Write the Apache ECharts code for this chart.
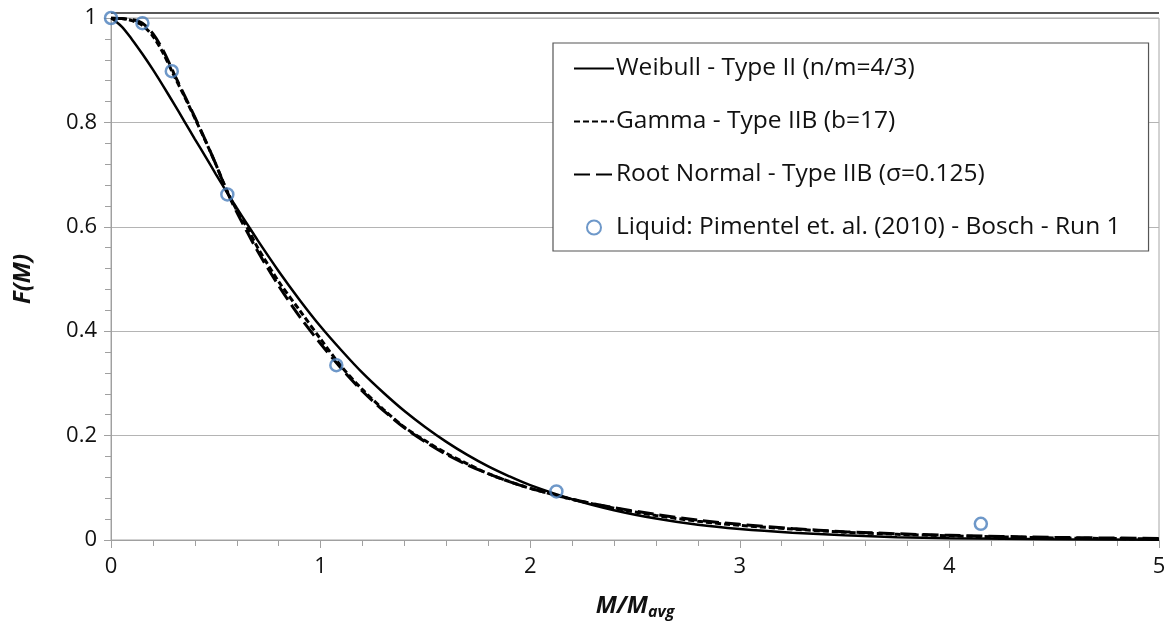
<!DOCTYPE html>
<html>
<head>
<meta charset="utf-8">
<script src="https://cdn.jsdelivr.net/npm/echarts@6/dist/echarts.min.js"></script>
<style>
  html, body { margin: 0; padding: 0; background: #fff; }
  #chart { width: 1171px; height: 634px; }
</style>
</head>
<body>
<div id="chart"></div>
<script>
// x positions (M/Mavg) shared by the three model curves
const xs = [0, 0.05, 0.1, 0.15, 0.2, 0.25, 0.3, 0.35, 0.4, 0.45, 0.5, 0.55, 0.6, 0.65, 0.7,
  0.8, 0.9, 1.0, 1.1, 1.2, 1.3, 1.4, 1.5, 1.6, 1.7, 1.8, 1.9, 2.0, 2.2, 2.4, 2.6, 2.8,
  3.0, 3.25, 3.5, 3.75, 4.0, 4.5, 5.0];

const weibull = [1, 0.984, 0.959, 0.931, 0.901, 0.869, 0.836, 0.802, 0.768, 0.735, 0.701, 0.668, 0.636, 0.605, 0.574,
  0.515, 0.46, 0.409, 0.363, 0.32, 0.282, 0.247, 0.216, 0.188, 0.163, 0.141, 0.122, 0.105, 0.078, 0.057, 0.041, 0.029,
  0.021, 0.014, 0.009, 0.0055, 0.0034, 0.0013, 0.0005];

const gamma = [1, 0.999, 0.995, 0.986, 0.965, 0.932, 0.89, 0.85, 0.808, 0.765, 0.72, 0.672, 0.632, 0.598, 0.56,
  0.495, 0.44, 0.385, 0.332, 0.288, 0.25, 0.216, 0.19, 0.166, 0.146, 0.127, 0.112, 0.099, 0.078, 0.061, 0.047, 0.036,
  0.028, 0.021, 0.015, 0.011, 0.008, 0.004, 0.002];

const rootNormal = [1, 0.999, 0.997, 0.99, 0.97, 0.937, 0.894, 0.852, 0.81, 0.766, 0.72, 0.671, 0.628, 0.59, 0.553,
  0.487, 0.428, 0.376, 0.328, 0.285, 0.248, 0.215, 0.188, 0.164, 0.144, 0.127, 0.112, 0.099, 0.078, 0.062, 0.049, 0.038,
  0.03, 0.022, 0.016, 0.012, 0.009, 0.005, 0.003];

// measured points (Pimentel et al. 2010, Bosch, run 1)
const liquidX = [0, 0.15, 0.29, 0.555, 1.075, 2.125, 4.15];
const liquidY = [1, 0.99, 0.898, 0.662, 0.335, 0.093, 0.031];

const names = [
  'Weibull - Type II (n/m=4/3)',
  'Gamma - Type IIB (b=17)',
  'Root Normal - Type IIB (σ=0.125)',
  'Liquid: Pimentel et. al. (2010) - Bosch - Run 1'
];

const dashGamma = [6, 3];
const dashRoot = [16, 6];
const font = '"Open Sans", sans-serif';
const noDot = { color: 'rgba(0,0,0,0)', borderWidth: 0 };

function pairs(x, y) {
  return x.map((v, i) => [v, y[i]]);
}

const chart = echarts.init(document.getElementById('chart'));
chart.setOption({
  animation: false,
  textStyle: { fontFamily: font },
  grid: { left: 111, right: 12, top: 18, bottom: 94, show: true, borderColor: '#a6a6a6', borderWidth: 1 },
  graphic: [{
    type: 'line',
    shape: { x1: 111, y1: 13, x2: 1159, y2: 13 },
    style: { stroke: '#222', lineWidth: 1.5 }
  }],
  legend: {
    orient: 'vertical',
    left: 553,
    top: 43,
    data: [
      { name: names[0], itemStyle: noDot, lineStyle: { type: 'solid' } },
      { name: names[1], itemStyle: noDot, lineStyle: { type: dashGamma } },
      { name: names[2], itemStyle: noDot, lineStyle: { type: dashRoot } },
      { name: names[3] }
    ],
    backgroundColor: '#fff',
    borderColor: '#555',
    borderWidth: 1.2,
    padding: [13, 28, 11, 20],
    itemWidth: 40,
    itemHeight: 14,
    itemGap: 28,
    textStyle: { fontSize: 24.5, color: '#111', fontFamily: font, padding: [0, 0, 0, -3] }
  },
  xAxis: {
    type: 'value',
    min: 0,
    max: 5,
    interval: 1,
    name: '{b|M/M}{s|avg}',
    nameLocation: 'middle',
    nameGap: 52,
    nameTextStyle: {
      rich: {
        b: { fontSize: 24, fontWeight: 'bold', fontStyle: 'italic', color: '#111', fontFamily: font },
        s: { fontSize: 16, fontWeight: 'bold', fontStyle: 'italic', color: '#111', fontFamily: font, verticalAlign: 'bottom', padding: [12, 0, 0, 0] }
      }
    },
    axisLine: { lineStyle: { color: '#a0a0a0', width: 1 } },
    axisTick: { show: true, length: 8, lineStyle: { color: '#a0a0a0' } },
    minorTick: { show: true, splitNumber: 5, length: 6, lineStyle: { color: '#a0a0a0' } },
    splitLine: { show: false },
    axisLabel: { fontSize: 22, color: '#111', margin: 16, fontFamily: font }
  },
  yAxis: {
    type: 'value',
    min: 0,
    max: 1,
    interval: 0.2,
    name: 'F(M)',
    nameLocation: 'middle',
    nameGap: 76,
    nameTextStyle: { fontSize: 24, fontWeight: 'bold', fontStyle: 'italic', color: '#111', fontFamily: font },
    axisLine: { show: true, lineStyle: { color: '#a0a0a0', width: 1 } },
    axisTick: { show: true, length: 7, lineStyle: { color: '#a0a0a0' } },
    minorTick: { show: true, splitNumber: 5, length: 6, lineStyle: { color: '#a0a0a0' } },
    splitLine: { show: true, lineStyle: { color: '#b4b4b4', width: 1.2 } },
    axisLabel: { fontSize: 22, color: '#111', margin: 14, fontFamily: font }
  },
  series: [
    {
      name: names[0], type: 'line', smooth: 0.3, symbol: 'none',
      data: pairs(xs, weibull),
      lineStyle: { color: '#000', width: 2.5, type: 'solid' },
      itemStyle: { color: '#000' }
    },
    {
      name: names[1], type: 'line', smooth: 0.3, symbol: 'none',
      data: pairs(xs, gamma),
      lineStyle: { color: '#000', width: 3, type: dashGamma },
      itemStyle: { color: '#000' }
    },
    {
      name: names[2], type: 'line', smooth: 0.3, symbol: 'none',
      data: pairs(xs, rootNormal),
      lineStyle: { color: '#000', width: 3, type: dashRoot },
      itemStyle: { color: '#000' }
    },
    {
      name: names[3], type: 'scatter', symbol: 'circle', symbolSize: 12,
      data: pairs(liquidX, liquidY),
      itemStyle: { color: 'rgba(255,255,255,0)', borderColor: '#4a7ebb', borderWidth: 2.5 },
      z: 5
    }
  ]
});
</script>
</body>
</html>
